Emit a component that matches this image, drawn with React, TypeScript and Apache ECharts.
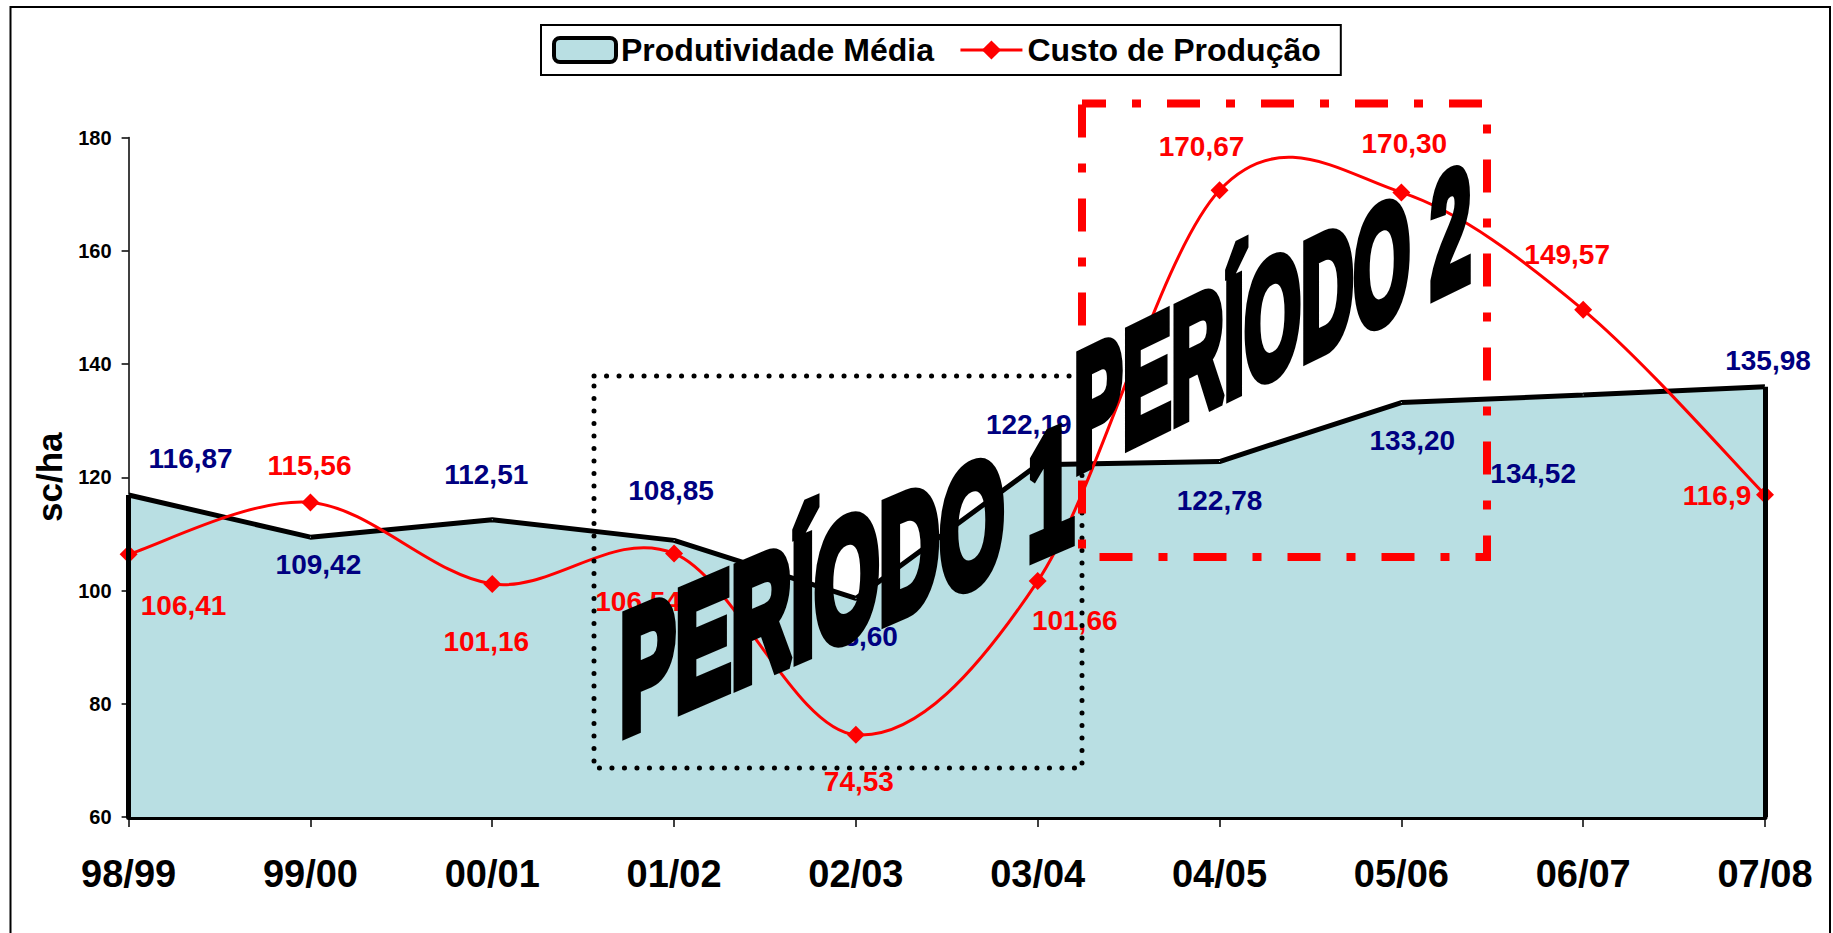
import React, { useEffect, useRef } from 'react';
import * as echarts from 'echarts';

const categories = ['98/99', '99/00', '00/01', '01/02', '02/03', '03/04', '04/05', '05/06', '06/07', '07/08'];
const produtividade = [116.87, 109.42, 112.51, 108.85, 98.6, 122.19, 122.78, 133.2, 134.52, 135.98];
const custo = [106.41, 115.56, 101.16, 106.54, 74.53, 101.66, 170.67, 170.3, 149.57, 116.9];
const custoLabelOverride: Record<number, string> = { 9: '116,9' };
const yMin = 60;
const yMax = 180;
const yInterval = 20;

// label offsets (px) relative to each point
const prodOffsets = [[62, -36], [8, 27], [-6, -45], [-3, -50], [7, 38], [-9, -40], [0, 39], [11, 38], [-50, 78], [3, -26]];
const custoOffsets = [[55, 51], [-1, -37], [-6, 58], [-36, 48], [3, 47], [37, 39], [-18, -44], [3, -49], [-16, -55], [-48, 1]];

const FONT = '"Liberation Sans", Arial, Helvetica, sans-serif';
const fmt = (v: number) => v.toFixed(2).replace('.', ',');

export default function App() {
  const ref = useRef<HTMLDivElement>(null);
  useEffect(() => {
    if (!ref.current) return;
    const chart = echarts.init(ref.current, null, { renderer: 'svg' });
    const n = custo.length;
    const clampIdx = (k: number) => Math.max(0, Math.min(n - 1, k));
    const option: any = {
      animation: false,
      backgroundColor: '#ffffff',
      textStyle: { fontFamily: FONT },
      grid: { left: 128.6, right: 68, top: 137.5, bottom: 116, containLabel: false },
      legend: {
        left: 541,
        top: 25,
        orient: 'horizontal',
        padding: [9, 20, 9, 11],
        itemGap: 25,
        itemWidth: 62,
        itemHeight: 24,
        backgroundColor: '#ffffff',
        borderColor: '#000000',
        borderWidth: 2,
        selectedMode: false,
        textStyle: { fontSize: 32, fontWeight: 'bold', color: '#000000', fontFamily: FONT },
        data: [
          { name: 'Produtividade Média', icon: 'roundRect', itemStyle: { color: '#b9dfe3', borderColor: '#000000', borderWidth: 4 } },
          { name: 'Custo de Produção', lineStyle: { opacity: 1, width: 3, color: '#ff0000' } },
        ],
      },
      xAxis: {
        type: 'category',
        data: categories,
        boundaryGap: false,
        axisLine: { show: true, lineStyle: { color: '#000000', width: 5 } },
        axisTick: { show: true, length: 10, alignWithLabel: true, lineStyle: { color: '#000000', width: 1.5 } },
        axisLabel: { interval: 0, fontSize: 38, fontWeight: 'bold', color: '#000000', margin: 38, fontFamily: FONT },
        splitLine: { show: false },
      },
      yAxis: {
        type: 'value',
        min: yMin,
        max: yMax,
        interval: yInterval,
        name: 'sc/ha',
        nameLocation: 'middle',
        nameGap: 56,
        nameTextStyle: { fontSize: 35, fontWeight: 'bold', color: '#000000', fontFamily: FONT },
        axisLine: { show: true, lineStyle: { color: '#000000', width: 1.5 } },
        axisTick: { show: true, length: 7, lineStyle: { color: '#000000', width: 1.5 } },
        axisLabel: { fontSize: 20, fontWeight: 'bold', color: '#000000', margin: 17, fontFamily: FONT },
        splitLine: { show: false },
      },
      series: [
        {
          name: 'Produtividade Média',
          type: 'line',
          z: 2,
          data: produtividade.map((v, i) => ({
            value: v,
            label: { offset: prodOffsets[i] },
          })),
          symbol: 'circle',
          symbolSize: 1,
          showSymbol: true,
          itemStyle: { color: '#b9dfe3' },
          lineStyle: { color: '#000000', width: 5 },
          areaStyle: { color: '#b9dfe3', opacity: 1, origin: 'start' },
          label: {
            show: true,
            position: 'inside',
            formatter: (p: any) => fmt(p.value),
            fontSize: 28,
            fontWeight: 'bold',
            color: '#000080',
            fontFamily: FONT,
          },
          markLine: {
            silent: true,
            symbol: ['none', 'none'],
            label: { show: false },
            lineStyle: { color: '#000000', width: 5, type: 'solid' },
            data: [
              [{ coord: [categories[0], yMin] }, { coord: [categories[0], produtividade[0]] }],
              [{ coord: [categories[n - 1], yMin] }, { coord: [categories[n - 1], produtividade[n - 1]] }],
            ],
          },
        },
        {
          name: 'curva',
          type: 'custom',
          z: 3,
          silent: true,
          data: custo.map((v, i) => [i, v]),
          encode: { x: 0, y: 1 },
          renderItem: (params: any, api: any) => {
            const i = params.dataIndex;
            if (i >= n - 1) return { type: 'group', children: [] };
            const p = (k: number) => {
              const c = clampIdx(k);
              return api.coord([c, custo[c]]);
            };
            const p0 = p(i - 1), p1 = p(i), p2 = p(i + 1), p3 = p(i + 2);
            const t = 1 / 6;
            return {
              type: 'bezierCurve',
              shape: {
                x1: p1[0], y1: p1[1], x2: p2[0], y2: p2[1],
                cpx1: p1[0] + (p2[0] - p0[0]) * t,
                cpy1: p1[1] + (p2[1] - p0[1]) * t,
                cpx2: p2[0] - (p3[0] - p1[0]) * t,
                cpy2: p2[1] - (p3[1] - p1[1]) * t,
              },
              style: { stroke: '#ff0000', lineWidth: 3, fill: null },
            };
          },
        },
        {
          name: 'Custo de Produção',
          type: 'line',
          z: 4,
          data: custo.map((v, i) => {
            const item: any = { value: v, label: { offset: custoOffsets[i] } };
            if (custoLabelOverride[i]) item.label.formatter = custoLabelOverride[i];
            return item;
          }),
          symbol: 'diamond',
          symbolSize: 18,
          showSymbol: true,
          itemStyle: { color: '#ff0000' },
          lineStyle: { color: '#ff0000', width: 3, opacity: 0 },
          label: {
            show: true,
            position: 'inside',
            formatter: (p: any) => fmt(p.value),
            fontSize: 28,
            fontWeight: 'bold',
            color: '#ff0000',
            fontFamily: FONT,
          },
        },
      ],
      graphic: [
        {
          type: 'rect', z: 100, silent: true,
          shape: { x: 10.5, y: 7, width: 1819.5, height: 940 },
          style: { fill: 'none', stroke: '#000000', lineWidth: 2 },
        },
        {
          type: 'rect', z: 101, silent: true,
          shape: { x: 594, y: 376, width: 488, height: 392 },
          style: { fill: 'none', stroke: '#000000', lineWidth: 5, lineDash: [0.1, 12.4], lineCap: 'round' },
        },
        {
          type: 'rect', z: 102, silent: true,
          shape: { x: 1082, y: 103.5, width: 405, height: 453.5 },
          style: { fill: 'none', stroke: '#ff0000', lineWidth: 8, lineDash: [33, 26, 9, 26], lineDashOffset: 9 },
        },
        {
          type: 'text', z: 103, silent: true,
          x: 620, y: 677, scaleX: 0.505, scaleY: 1.02, skewY: 0.406,
          style: {
            text: 'PERÍODO 1',
            font: 'bold 165px "Liberation Sans", Arial, sans-serif',
            fill: '#000000', stroke: '#000000', lineWidth: 13,
            align: 'left', verticalAlign: 'middle',
          },
        },
        {
          type: 'text', z: 103, silent: true,
          x: 1074, y: 415, scaleX: 0.442, scaleY: 1, skewY: 0.455,
          style: {
            text: 'PERÍODO 2',
            font: 'bold 165px "Liberation Sans", Arial, sans-serif',
            fill: '#000000', stroke: '#000000', lineWidth: 12,
            align: 'left', verticalAlign: 'middle',
          },
        },
      ],
    };
    chart.setOption(option);
    return () => chart.dispose();
  }, []);
  return <div ref={ref} style={{ position: 'fixed', left: 0, top: 0, width: 1833, height: 933 }} />;
}
